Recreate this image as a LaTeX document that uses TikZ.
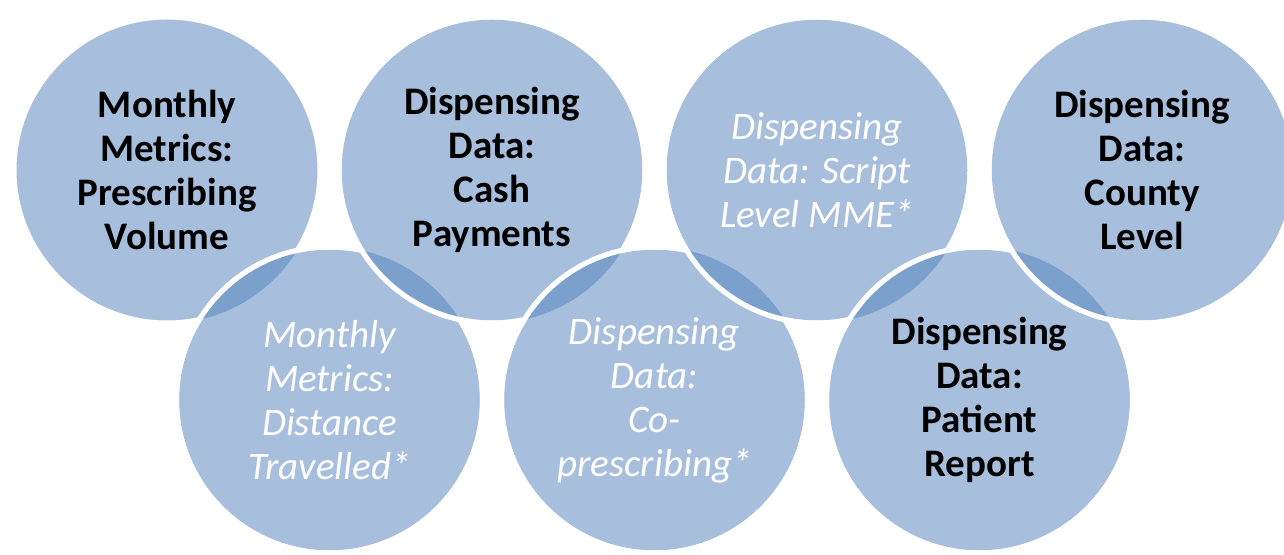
\documentclass[tikz,border=0pt]{standalone}
\usepackage{fontspec}
\setmainfont{Carlito}
\definecolor{bubfill}{HTML}{A7BFDD}
\definecolor{lensfill}{HTML}{7BA0CC}
\tikzset{
  bub/.style={circle, fill=bubfill, draw=white, line width=5pt, minimum size=306pt, inner sep=0pt, align=center},
  boldtxt/.style={font=\fontsize{39}{44}\selectfont\bfseries, text=black},
  ittxt/.style={font=\fontsize{39}{44}\selectfont\itshape, text=white},
  rim/.style={draw=white, line width=5pt},
  lens/.style={fill=lensfill},
}
\newcommand{\lensof}[2]{%
  \begin{scope}
    \clip (#1.center) circle[radius=153];
    \fill[lens] (#2.center) circle[radius=153];
  \end{scope}
  \draw[rim] (#1.center) circle[radius=153];
}
\begin{document}
\begin{tikzpicture}[x=1pt,y=1pt]
\useasboundingbox (0,0) rectangle (1284,554);
\fill[white] (0,0) rectangle (1284,554);
\node[bub,boldtxt] (c1) at (167,384) {Monthly\\Metrics:\\Prescribing\\Volume};
\node[bub,ittxt] (c5) at (329.5,154) {Monthly\\Metrics:\\Distance\\Travelled*};
\lensof{c5}{c1}
\node[bub,boldtxt] (c2) at (492,384) {Dispensing\\Data:\\Cash\\Payments};
\lensof{c2}{c5}
\node[bub,ittxt] (c6) at (654.5,154) {Dispensing\\Data:\\Co-\\prescribing*};
\lensof{c6}{c2}
\node[bub,ittxt] (c3) at (817,384) {Dispensing\\Data: Script\\Level MME*};
\lensof{c3}{c6}
\node[bub,boldtxt] (c7) at (979.5,154) {Dispensing\\Data:\\Patient\\Report};
\lensof{c7}{c3}
\node[bub,boldtxt] (c4) at (1142,384) {Dispensing\\Data:\\County\\Level};
\lensof{c4}{c7}
\end{tikzpicture}
\end{document}
